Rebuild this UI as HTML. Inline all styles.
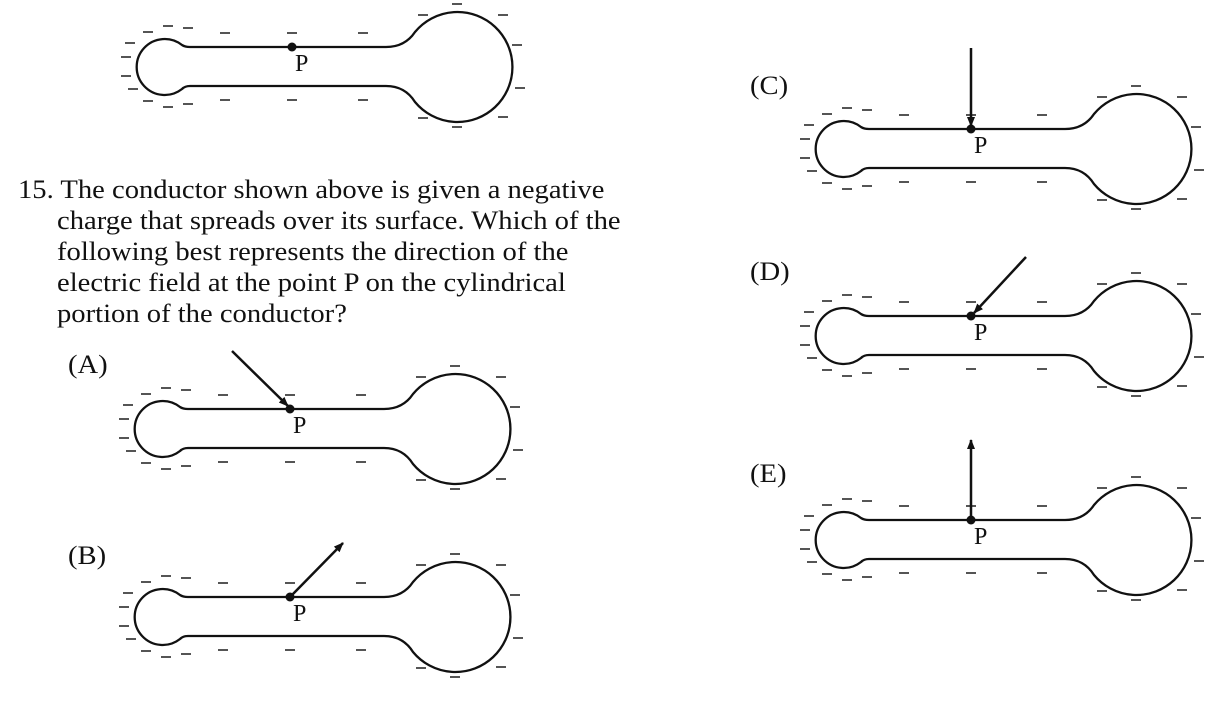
<!DOCTYPE html>
<html><head><style>
body{margin:0;background:#fff;width:1212px;height:707px;overflow:hidden;position:relative;font-family:"Liberation Serif",serif;}
.t{position:absolute;font-size:26px;color:#111;line-height:31px;transform-origin:0 0;transform:scaleX(1.1);white-space:nowrap;}
</style></head><body>
<svg width="1212" height="707" style="position:absolute;left:0;top:0">
<defs>
<g id="c">
<path d="M190,47 L386,47 Q405,47 415,32 A55,55 0 1 1 415,102 Q405,86 386,86 L190,86 Q185,86 182,89 A28,28 0 1 1 182,45 Q185,47 190,47 Z" fill="none" stroke="#111" stroke-width="2.3"/>
<g stroke="#555" stroke-width="2">
<path d="M143,32h10M163,26h10M183,28h10M220,33h10M287,33h10M358,33h10M125,43h10M121,57h10M121,76h10M128,89h10M143,101h10M163,107h10M183,104h10M220,100h10M287,100h10M358,100h10M418,15h10M452,4h10M498,15h10M512,45h10M515,88h10M498,117h10M452,127h10M418,118h10"/>
</g>
<circle cx="292" cy="47" r="4.5" fill="#111"/>
<text x="295" y="71" font-family="Liberation Serif,serif" font-size="24" fill="#111">P</text>
</g>
<marker id="ah" markerWidth="10" markerHeight="10" refX="9" refY="5" orient="auto" markerUnits="userSpaceOnUse"><path d="M0,1 L10,5 L0,9 Z" fill="#111"/></marker>
</defs>
<use href="#c"/>
<use href="#c" transform="translate(-2,362)"/>
<use href="#c" transform="translate(-2,550)"/>
<use href="#c" transform="translate(679,82)"/>
<use href="#c" transform="translate(679,269)"/>
<use href="#c" transform="translate(679,473)"/>
<g stroke="#111" stroke-width="2.5" marker-end="url(#ah)">
<line x1="232" y1="351" x2="288" y2="406"/>
<line x1="292" y1="595" x2="343" y2="543"/>
<line x1="971" y1="48" x2="971" y2="126"/>
<line x1="1026" y1="257" x2="974" y2="313"/>
<line x1="971" y1="518" x2="971" y2="440"/>
</g>
</svg>
<div class="t" style="left:18px;top:174px">15. The conductor shown above is given a negative</div>
<div class="t" style="left:57px;top:205px">charge that spreads over its surface. Which of the</div>
<div class="t" style="left:57px;top:236px">following best represents the direction of the</div>
<div class="t" style="left:57px;top:267px">electric field at the point P on the cylindrical</div>
<div class="t" style="left:57px;top:298px">portion of the conductor?</div>
<div class="t" style="left:68px;top:349px">(A)</div>
<div class="t" style="left:68px;top:540px">(B)</div>
<div class="t" style="left:750px;top:70px">(C)</div>
<div class="t" style="left:750px;top:256px">(D)</div>
<div class="t" style="left:750px;top:458px">(E)</div>
</body></html>
